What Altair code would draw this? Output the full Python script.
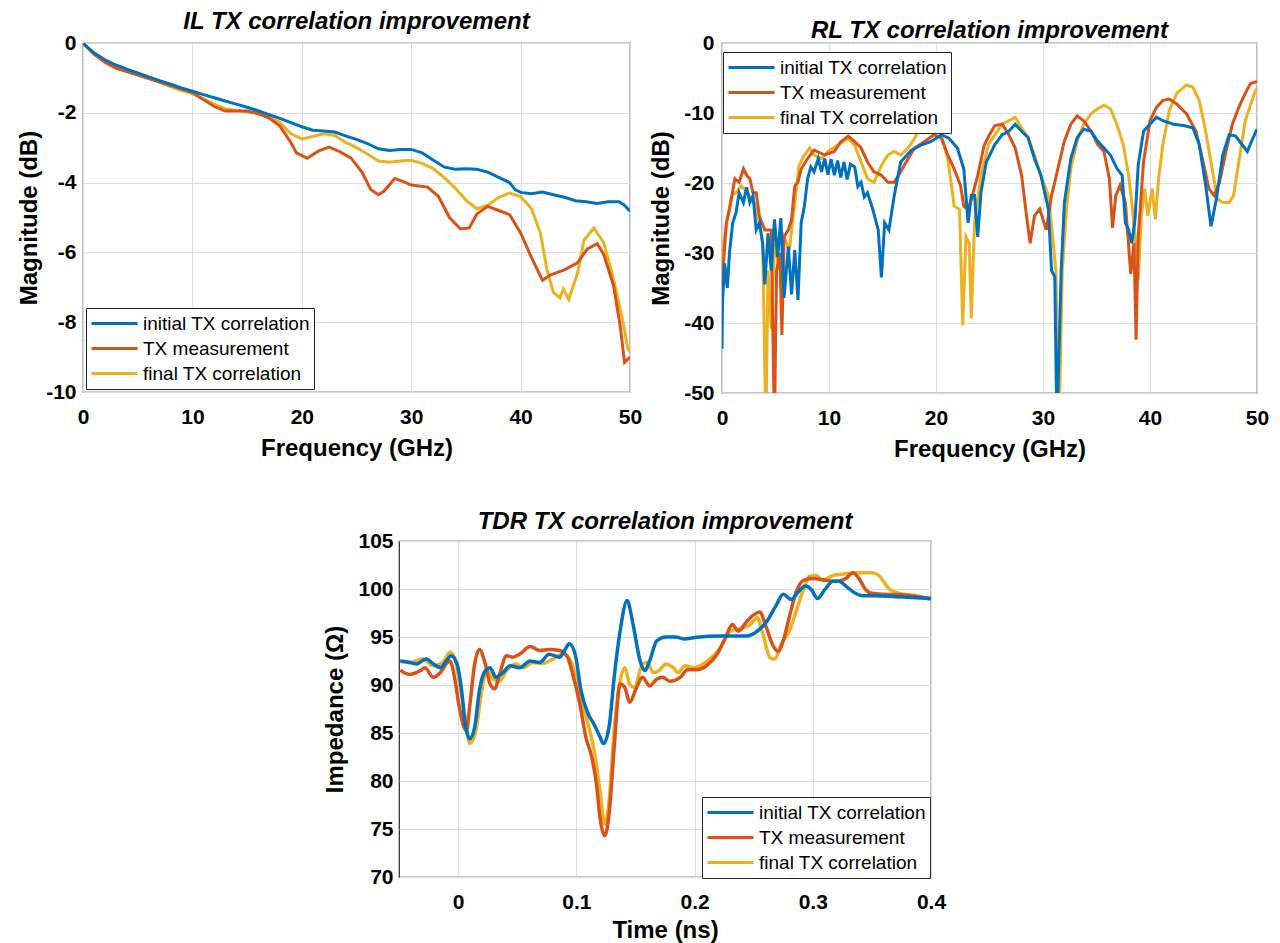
import altair as alt
import pandas as pd

FONT = "Liberation Sans"
SERIES = ["initial TX correlation", "TX measurement", "final TX correlation"]
COLORS = ["#0072BD", "#D95319", "#EDB120"]
DRAW_ORDER = ["final TX correlation", "TX measurement", "initial TX correlation"]

# ---------------- IL (insertion loss) ----------------
IL_F_INIT = [0, 0.5, 1, 2, 3, 4, 5, 6, 7, 8, 9, 10, 11, 12, 13, 14, 15, 16, 17, 18, 19, 20,
             21, 22, 23, 24, 25, 26, 27, 28, 29, 30, 31, 32, 33, 34, 35, 36, 37, 38, 39, 39.5,
             40, 41, 42, 43, 44, 45, 46, 47, 48, 49, 49.5, 50]
IL_DB_INIT = [0, -0.15, -0.28, -0.48, -0.63, -0.75, -0.86, -0.97, -1.08, -1.18, -1.29, -1.38,
              -1.48, -1.57, -1.66, -1.75, -1.84, -1.94, -2.05, -2.16, -2.28, -2.40, -2.50, -2.52,
              -2.55, -2.66, -2.76, -2.88, -3.03, -3.08, -3.05, -3.05, -3.15, -3.35, -3.55, -3.62,
              -3.60, -3.62, -3.70, -3.85, -4.00, -4.2, -4.28, -4.32, -4.27, -4.35, -4.42, -4.52,
              -4.55, -4.60, -4.55, -4.55, -4.65, -4.82]
IL_F_MEAS = [0, 1, 2, 3, 4, 5, 6, 7, 8, 9, 10, 11, 12, 13, 14, 15, 16, 17, 18, 19, 19.5, 20.5,
             21.5, 22.5, 23.5, 24.5, 25.5, 26.3, 27, 27.5, 28.5, 29.5, 30, 31.5, 32.5, 33.5, 34.5,
             35.3, 36, 37, 38, 39, 40, 41, 42, 42.7, 44, 45.2, 46.1, 47, 47.6, 48.5, 49.1, 49.5, 50]
IL_DB_MEAS = [0, -0.32, -0.55, -0.72, -0.82, -0.92, -1.02, -1.12, -1.22, -1.32, -1.42, -1.62,
              -1.82, -1.95, -1.95, -1.95, -2.02, -2.15, -2.38, -2.85, -3.15, -3.3, -3.1, -2.98,
              -3.12, -3.3, -3.7, -4.2, -4.35, -4.25, -3.88, -4.0, -4.07, -4.13, -4.4, -5.0, -5.33,
              -5.3, -4.9, -4.68, -4.8, -4.92, -5.44, -6.15, -6.8, -6.65, -6.5, -6.3, -5.9, -5.75,
              -6.06, -6.96, -8.1, -9.15, -9.0]
IL_F_FINAL = [0, 1, 2, 3, 4, 5, 6, 7, 8, 9, 10, 11, 12, 13, 14, 15, 16, 17, 18, 19, 20, 21, 22,
              23, 24, 25, 26, 27, 28, 29, 30, 31, 32, 33, 34, 35, 36, 37, 38, 39, 40, 41, 41.8,
              42.4, 43, 43.6, 43.9, 44.4, 45.2, 45.8, 46.7, 47.6, 48.5, 49.3, 49.8, 50]
IL_DB_FINAL = [0, -0.3, -0.52, -0.68, -0.8, -0.9, -1.0, -1.12, -1.25, -1.36, -1.45, -1.6, -1.75,
               -1.88, -1.93, -1.97, -2.02, -2.12, -2.28, -2.6, -2.75, -2.68, -2.6, -2.65, -2.85,
               -3.0, -3.18, -3.38, -3.42, -3.38, -3.36, -3.45, -3.6, -3.85, -4.15, -4.5, -4.75,
               -4.65, -4.42, -4.3, -4.4, -4.75, -5.44, -6.48, -7.15, -7.3, -7.05, -7.35, -6.6,
               -5.65, -5.3, -5.72, -6.77, -7.9, -8.76, -8.85]

# ---------------- RL (return loss) ----------------
RL_F_INIT = [0, 0.05, 0.25, 0.5, 0.7, 1.0, 1.3, 1.6, 2.0, 2.3, 2.6, 2.9, 3.2, 3.5, 3.8, 4.0, 4.3,
             4.6, 4.9, 5.2, 5.5, 5.8, 6.2, 6.5, 6.8, 7.1, 7.4, 7.7, 8.0, 8.3, 8.6, 9.0, 9.3, 9.6,
             9.9, 10.2, 10.5, 10.8, 11.1, 11.4, 11.7, 12.0, 12.4, 12.7, 13.0, 13.3, 13.6, 14.1,
             14.6, 14.9, 15.2, 15.6, 16.1, 16.7, 17.7, 18.6, 19.5, 20.5, 21.2, 22.0, 22.6, 23.0,
             23.3, 23.6, 23.9, 24.2, 24.7, 25.5, 26.2, 26.8, 27.4, 28.0, 28.6, 29.2, 29.8, 30.5,
             30.8, 31.1, 31.3, 31.7, 32.0, 32.6, 33.2, 33.8, 34.5, 35.1, 35.7, 36.3, 36.9, 37.4,
             37.7, 38.0, 38.3, 38.6, 38.9, 39.4, 40.0, 40.6, 41.2, 42.2, 43.1, 44.0, 44.6, 45.2,
             45.7, 46.2, 46.8, 47.4, 48.0, 48.6, 49.1, 49.5, 50]
RL_DB_INIT = [-43.7, -37, -31.5, -35, -30, -25.7, -24.3, -21.4, -22.8, -20.6, -22.8, -21.8, -26.7,
              -25.7, -28.6, -34.5, -27.2, -32.5, -25.2, -30.6, -25, -36.4, -29.1, -35.9, -29.6,
              -36.7, -25.7, -23.3, -19.4, -17.7, -18.4, -16.5, -18.4, -16.5, -18.8, -16.6, -18.9,
              -16.8, -19.2, -17, -19.5, -17.3, -17.7, -20.5, -19.9, -22, -21.4, -23.8, -26.7,
              -33.5, -25.7, -26.7, -21.8, -17, -15.3, -14.6, -14.1, -13.1, -13.6, -15, -18, -25.7,
              -21.8, -21.8, -27.7, -21.4, -17, -14.5, -13.1, -12.6, -11.6, -12.6, -13.5, -16.5,
              -18.9, -23.7, -32.5, -33.4, -55, -32.5, -22.8, -16.5, -13.5, -12.3, -12.6, -14, -15,
              -16, -17.9, -18.9, -25.7, -26.7, -28.6, -25.2, -17.4, -12.6, -11.6, -10.6, -11.1,
              -11.6, -11.8, -12.1, -14.5, -20.3, -26.2, -22.3, -16, -13.1, -13.3, -14.5, -15.5,
              -14, -12.3]
RL_F_MEAS = [0, 0.1, 0.4, 0.7, 1.2, 1.6, 2.0, 2.3, 2.6, 2.9, 3.2, 3.5, 4.0, 4.3, 4.6, 4.9, 5.1,
             5.4, 5.6, 5.8, 6.2, 6.5, 6.8, 7.1, 7.4, 8.0, 8.6, 9.6, 10.5, 11.1, 11.8, 12.4, 13.0,
             13.6, 14.2, 14.9, 15.5, 16.1, 16.7, 17.4, 18.0, 18.9, 19.8, 20.5, 21.1, 21.7, 22.3,
             22.6, 23.0, 23.4, 23.9, 24.5, 25.0, 25.5, 26.2, 26.8, 27.4, 28.0, 28.5, 28.8, 29.2,
             29.7, 30.3, 30.8, 31.4, 32.0, 32.6, 33.2, 33.8, 34.5, 35.1, 35.7, 36.2, 36.5, 36.8,
             37.2, 37.7, 38.2, 38.5, 38.7, 38.9, 39.4, 40.0, 40.6, 41.2, 41.8, 42.5, 43.4, 44.3,
             44.9, 45.5, 46.0, 46.5, 47.1, 47.7, 48.3, 48.9, 49.4, 50]
RL_DB_MEAS = [-36, -32.5, -25.7, -23.8, -19.4, -19.9, -18, -18.9, -19.4, -21.4, -21.4, -24.8,
              -26.7, -26.7, -26.7, -55, -32.5, -30, -41.7, -27.7, -26.7, -25.2, -20.4, -19.9, -18,
              -16.5, -15.3, -16, -15.5, -14.1, -13.3, -14.1, -15, -17, -18.4, -18.9, -19.9, -19.9,
              -18.4, -16.5, -15, -14.1, -13.1, -13.6, -16, -18, -20.4, -23.3, -23.8, -21.8, -18.9,
              -14.6, -13.1, -11.8, -11.6, -13.1, -15, -18.9, -25.2, -28.6, -24.7, -23.7, -26.7,
              -21.8, -17.9, -14, -11.6, -10.4, -11.1, -12.6, -14.5, -15.5, -19.4, -26.4, -21.8,
              -20.3, -22.8, -33, -28.6, -42.4, -27.6, -16.9, -11.1, -9.2, -8.2, -8.0, -8.7, -10.1,
              -12.6, -16.5, -20.8, -21.8, -19.9, -15.5, -11.6, -9.2, -7.2, -5.8, -5.5]
RL_F_FINAL = [0, 0.1, 0.6, 0.9, 1.3, 1.8, 2.4, 3.0, 3.5, 3.8, 4.1, 4.3, 4.6, 4.9, 5.4, 5.8, 6.3,
              6.8, 7.2, 7.7, 8.2, 8.6, 9.3, 9.9, 10.8, 11.8, 12.4, 13.0, 13.6, 14.2, 14.9, 15.5,
              16.1, 16.7, 17.4, 18.0, 18.6, 19.2, 19.8, 20.5, 21.1, 21.7, 22.2, 22.5, 22.8, 23.1,
              23.3, 23.6, 24.2, 24.9, 25.5, 26.2, 26.8, 27.4, 28.0, 28.6, 29.2, 29.8, 30.5, 30.9,
              31.2, 31.5, 31.8, 32.2, 32.6, 33.2, 33.8, 34.5, 35.1, 35.7, 36.3, 36.9, 37.5, 38.0,
              38.3, 38.6, 38.9, 39.2, 39.5, 39.8, 40.2, 40.5, 40.8, 41.2, 41.8, 42.5, 43.4, 44.0,
              44.6, 45.2, 45.8, 46.3, 46.8, 47.4, 47.8, 48.3, 48.9, 49.8, 50]
RL_DB_FINAL = [-32.5, -29, -24.3, -21.8, -21.4, -20.4, -21.4, -22.8, -25.7, -28.6, -55, -32.5,
               -40.8, -28.6, -32.5, -27.7, -29.6, -22.8, -17.5, -16, -15, -16, -16.5, -15.5, -14.6,
               -13.6, -14.6, -17, -19.4, -19.9, -17.5, -16, -15.5, -16, -15, -13.6, -11.6, -11.4,
               -11.2, -13.1, -16.5, -23.3, -23.8, -40.3, -27.7, -28.6, -39.3, -25.7, -18.9, -14.5,
               -13.1, -11.6, -11.1, -10.6, -12.1, -13.5, -16, -18.9, -21.8, -27.6, -32.5, -55,
               -32.5, -23.7, -17.9, -14, -11.6, -10.1, -9.4, -8.9, -9.4, -11.6, -14.5, -18.9,
               -22.8, -27.6, -33.9, -24.7, -20.8, -24.7, -20.8, -25.2, -19.4, -14.5, -9.7, -7.2,
               -6, -6.3, -8.2, -12.6, -17.9, -22.3, -22.8, -22.8, -21.8, -17, -11.1, -7, -6.5]

# ---------------- TDR ----------------
TDR_T_INIT = [-0.049, -0.041, -0.035, -0.027, -0.021, -0.015, -0.010, -0.006, -0.001, 0.003,
              0.006, 0.010, 0.014, 0.018, 0.023, 0.027, 0.032, 0.038, 0.044, 0.052, 0.061, 0.069,
              0.077, 0.086, 0.090, 0.094, 0.099, 0.104, 0.110, 0.115, 0.120, 0.123, 0.128, 0.132,
              0.137, 0.143, 0.148, 0.154, 0.158, 0.162, 0.168, 0.176, 0.184, 0.191, 0.202, 0.222,
              0.244, 0.253, 0.261, 0.269, 0.275, 0.282, 0.287, 0.294, 0.299, 0.304, 0.310, 0.317,
              0.322, 0.329, 0.336, 0.342, 0.353, 0.370, 0.387, 0.400]
TDR_Z_INIT = [92.5, 92.35, 92.2, 92.7, 92.2, 91.8, 92.5, 93.05, 92.2, 89.4, 85.9, 84.4, 85.6,
              89.4, 91.5, 91.8, 90.8, 91.3, 92.0, 91.8, 92.5, 92.35, 93.2, 92.9, 93.6, 94.3, 93.2,
              89.4, 87.0, 85.9, 84.6, 83.9, 85.9, 90.8, 95.6, 98.8, 96.3, 92.5, 91.5, 92.5, 94.6,
              95.0, 95.0, 94.8, 94.97, 95.1, 95.1, 95.6, 96.6, 98.3, 99.45, 98.9, 99.6, 100.3,
              99.9, 99.0, 99.9, 100.8, 100.8, 100.2, 99.55, 99.3, 99.3, 99.2, 99.1, 99.0]
TDR_T_MEAS = [-0.049, -0.041, -0.032, -0.028, -0.021, -0.015, -0.010, -0.007, -0.003, 0.001,
              0.005, 0.007, 0.010, 0.014, 0.018, 0.023, 0.027, 0.031, 0.035, 0.041, 0.046, 0.052,
              0.061, 0.069, 0.077, 0.086, 0.092, 0.097, 0.103, 0.108, 0.113, 0.117, 0.120, 0.124,
              0.128, 0.132, 0.137, 0.141, 0.145, 0.151, 0.156, 0.162, 0.168, 0.173, 0.179, 0.188,
              0.194, 0.202, 0.211, 0.219, 0.226, 0.232, 0.237, 0.244, 0.250, 0.255, 0.261, 0.266,
              0.271, 0.275, 0.280, 0.286, 0.292, 0.300, 0.311, 0.320, 0.328, 0.334, 0.339, 0.345,
              0.350, 0.361, 0.375, 0.389, 0.400]
TDR_Z_MEAS = [91.55, 91.1, 91.5, 91.8, 90.8, 91.3, 92.2, 92.5, 90.8, 87.7, 85.6, 85.25, 88.0,
              92.2, 93.7, 92.2, 90.1, 89.6, 91.1, 93.05, 92.9, 93.2, 94.0, 93.6, 93.7, 93.6, 93.05,
              91.1, 88.0, 84.6, 82.5, 79.7, 76.2, 74.3, 76.9, 83.5, 90.1, 89.75, 88.2, 89.75, 90.8,
              89.9, 90.6, 90.8, 90.4, 90.8, 91.6, 91.6, 92.1, 93.2, 94.9, 96.3, 95.6, 96.6, 97.3,
              97.6, 95.9, 94.2, 93.5, 94.6, 97.0, 99.7, 100.9, 101.1, 100.9, 100.8, 101.1, 101.7,
              101.1, 99.9, 99.55, 99.45, 99.4, 99.2, 99.0]
TDR_T_FINAL = [-0.049, -0.041, -0.030, -0.021, -0.013, -0.007, -0.003, 0.001, 0.006, 0.010,
               0.015, 0.020, 0.024, 0.030, 0.035, 0.041, 0.049, 0.055, 0.063, 0.072, 0.080, 0.089,
               0.096, 0.103, 0.110, 0.115, 0.120, 0.124, 0.128, 0.132, 0.137, 0.141, 0.145, 0.149,
               0.156, 0.160, 0.165, 0.170, 0.176, 0.182, 0.186, 0.192, 0.199, 0.211, 0.222, 0.230,
               0.239, 0.247, 0.253, 0.258, 0.264, 0.268, 0.273, 0.280, 0.286, 0.292, 0.297, 0.303,
               0.308, 0.317, 0.328, 0.339, 0.350, 0.356, 0.364, 0.373, 0.387, 0.400]
TDR_Z_FINAL = [92.5, 92.35, 92.7, 92.0, 92.35, 93.4, 92.9, 90.4, 86.6, 83.9, 85.25, 89.4, 91.5,
               90.6, 90.4, 91.5, 92.2, 91.8, 92.35, 92.25, 92.7, 93.2, 92.35, 88.7, 85.9, 83.2,
               79.0, 75.5, 78.3, 85.25, 90.4, 91.8, 90.1, 89.75, 92.2, 92.35, 91.3, 91.5, 92.2,
               91.8, 91.3, 92.0, 91.8, 92.5, 93.9, 95.6, 95.9, 96.3, 97.0, 95.2, 92.8, 92.7, 94.2,
               95.6, 97.7, 99.9, 101.3, 101.4, 100.9, 101.4, 101.6, 101.7, 101.7, 101.4, 100.1,
               99.55, 99.3, 98.9]

FREQ_TICKS = [0, 10, 20, 30, 40, 50]
IL_TICKS = [0, -2, -4, -6, -8, -10]
RL_TICKS = [0, -10, -20, -30, -40, -50]
TDR_X_TICKS = [0, 0.1, 0.2, 0.3, 0.4]
TDR_Y_TICKS = [70, 75, 80, 85, 90, 95, 100, 105]


def frame(xs_list, ys_list):
    rows = []
    for name, xs, ys in zip(SERIES, xs_list, ys_list):
        assert len(xs) == len(ys), (name, len(xs), len(ys))
        for x, y in zip(xs, ys):
            rows.append({"x": x, "y": y, "series": name})
    return pd.DataFrame(rows)


def panel(df, title, title_offset, xaxis, yaxis, xdom, ydom, width, height,
          legend, stroke_w, interp):
    color = alt.Color("series:N", scale=alt.Scale(domain=SERIES, range=COLORS),
                      legend=legend)
    layers = []
    for s in DRAW_ORDER:
        layers.append(
            alt.Chart(df)
            .transform_filter(alt.datum.series == s)
            .mark_line(strokeWidth=stroke_w, clip=True, interpolate=interp)
            .encode(
                x=alt.X("x:Q", scale=alt.Scale(domain=xdom, nice=False, zero=False), axis=xaxis),
                y=alt.Y("y:Q", scale=alt.Scale(domain=ydom, nice=False, zero=False), axis=yaxis),
                color=color,
            )
        )
    return alt.layer(*layers).properties(
        width=width, height=height,
        title=alt.TitleParams(text=title, offset=title_offset, frame="group", anchor="middle"),
    )


def legend_at(x, y):
    return alt.Legend(title=None, orient="none", legendX=x, legendY=y, direction="vertical")


def axis(title, values, pad, tpad):
    return alt.Axis(title=title, values=values, labelExpr="datum.value", labelFlush=False,
                    labelPadding=pad, titlePadding=tpad)


il_df = frame([IL_F_INIT, IL_F_MEAS, IL_F_FINAL], [IL_DB_INIT, IL_DB_MEAS, IL_DB_FINAL])
rl_df = frame([RL_F_INIT, RL_F_MEAS, RL_F_FINAL], [RL_DB_INIT, RL_DB_MEAS, RL_DB_FINAL])
tdr_df = frame([TDR_T_INIT, TDR_T_MEAS, TDR_T_FINAL], [TDR_Z_INIT, TDR_Z_MEAS, TDR_Z_FINAL])

il = panel(
    il_df, "IL TX correlation improvement", -2,
    axis("Frequency (GHz)", FREQ_TICKS, 14, 9),
    axis("Magnitude (dB)", IL_TICKS, 7, 4),
    [0, 50], [-10, 0], 547, 349, legend_at(3, 265), 3, "linear",
)

rl = panel(
    rl_df, "RL TX correlation improvement", -11,
    axis("Frequency (GHz)", FREQ_TICKS, 14, 9),
    axis("Magnitude (dB)", RL_TICKS, 8, 10),
    [0, 50], [-50, 0], 535, 350, legend_at(1, 9), 3, "linear",
)

tdr = panel(
    tdr_df, "TDR TX correlation improvement", -3.5,
    axis("Time (ns)", TDR_X_TICKS, 14, 6),
    axis("Impedance (\u03a9)", TDR_Y_TICKS, 6, 10),
    [-0.05, 0.4], [70, 105], 532, 336, legend_at(303, 256), 3.5, "monotone",
)

spacer = (
    alt.Chart(pd.DataFrame({"s": [0]}))
    .mark_point(opacity=0, size=1)
    .encode(x=alt.X("s:Q", axis=None), y=alt.Y("s:Q", axis=None))
    .properties(width=240, height=10, view=alt.ViewBackground(strokeOpacity=0))
)

top_row = (alt.hconcat(il, rl, spacing=6)
           .resolve_scale(color="independent").resolve_legend(color="independent"))
bottom_row = (alt.hconcat(spacer, tdr, spacing=0)
              .resolve_scale(color="independent").resolve_legend(color="independent"))

chart = (
    alt.vconcat(top_row, bottom_row, spacing=46)
    .resolve_scale(color="independent")
    .resolve_legend(color="independent")
    .properties(padding={"left": 17, "top": 9, "right": 5, "bottom": 0},
                background="white")
    .configure_axis(labelFont=FONT, labelFontSize=21, labelFontWeight="bold",
                    labelColor="black", titleFont=FONT, titleFontSize=24,
                    titleFontWeight="bold", titleColor="black", gridColor="#dddddd",
                    gridWidth=1, domain=False, ticks=False, tickSize=0)
    .configure_view(stroke="#262626", strokeWidth=1.2)
    .configure_title(font=FONT, fontSize=24, fontWeight="bold", fontStyle="italic",
                     color="black")
    .configure_legend(labelFont=FONT, labelFontSize=19, labelColor="black",
                      strokeColor="#262626", fillColor="white", padding=4,
                      symbolType="stroke", symbolSize=2116, symbolStrokeWidth=3,
                      labelOffset=4, rowPadding=2, clipHeight=23, cornerRadius=0,
                      labelLimit=400)
)

chart.save("out.html", embed_options={"renderer": "svg", "actions": False})
